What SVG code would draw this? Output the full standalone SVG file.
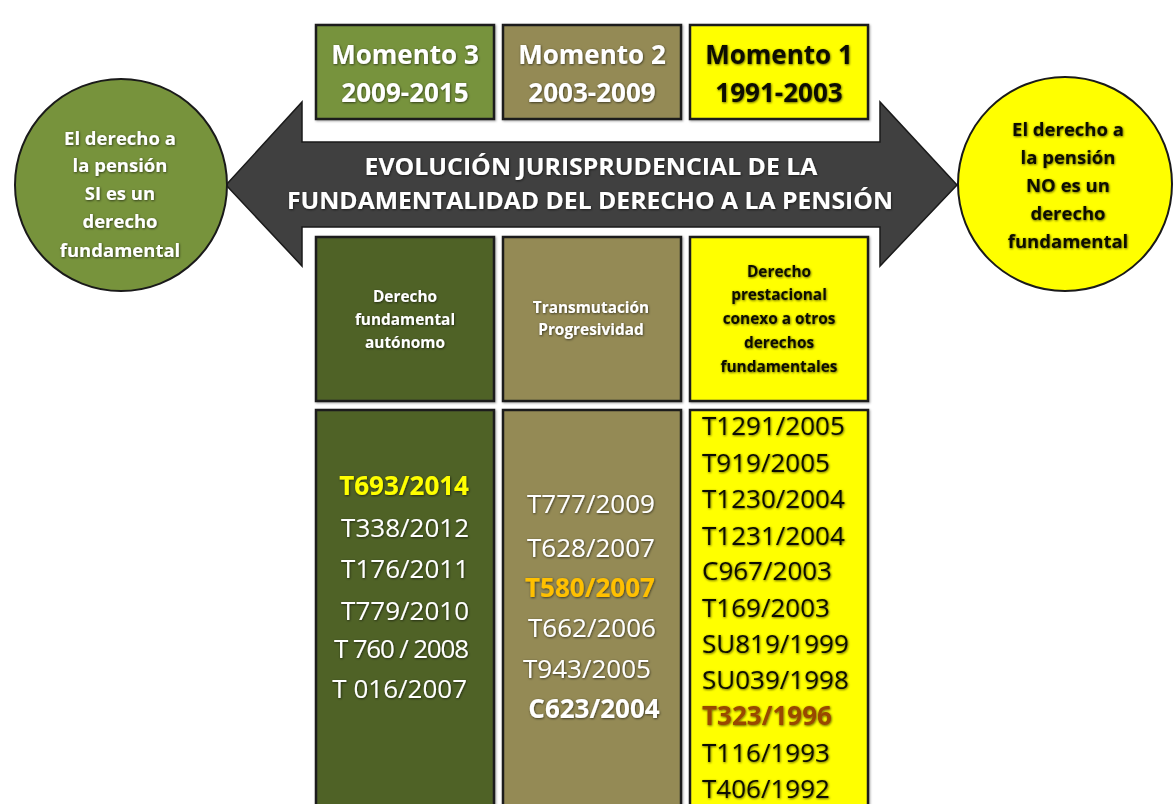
<svg xmlns="http://www.w3.org/2000/svg" width="1174" height="804" viewBox="0 0 1174 804">
<defs>
<filter id="sh" x="-10%" y="-30%" width="120%" height="160%">
<feDropShadow dx="0.6" dy="0.8" stdDeviation="0.9" flood-color="#000" flood-opacity="0.65"/>
</filter>
<filter id="bs" x="-5%" y="-5%" width="110%" height="110%">
<feDropShadow dx="1" dy="1" stdDeviation="1" flood-color="#000" flood-opacity="0.35"/>
</filter>
<style>
.box{stroke:#1c1c1c;stroke-width:2.5;filter:url(#bs)}
.g1{fill:#77933C}.g2{fill:#4F6228}.kh{fill:#948A54}.ye{fill:#FFFF00}
.t{font-family:"Open Sans","Liberation Sans",sans-serif;filter:url(#sh)}
.b{font-weight:700}
.w{fill:#FFFFFF}.k{fill:#111100}
.mo{font-size:26px;font-weight:700;text-anchor:middle}
.hd{font-size:15.4px;font-weight:700;text-anchor:middle}
.ci{font-size:18.5px;font-weight:700;text-anchor:middle}
.li{font-size:26px}
.ti{font-size:24px;font-weight:700;text-anchor:middle;fill:#FFFFFF}
</style>
</defs>
<rect width="1174" height="804" fill="#FFFFFF"/>

<g id="connectors">
<polygon id="arrow" points="226,185 302,102 302,142 880,142 880,102 957,185 880,266 880,227 302,227 302,266" fill="#404040" stroke="#1a1a1a" stroke-width="1.5"/>
</g>

<g id="title">
<text class="t ti" x="591" y="175" textLength="453" lengthAdjust="spacingAndGlyphs">EVOLUCIÓN JURISPRUDENCIAL DE LA</text>
<text class="t ti" x="590" y="209" textLength="606" lengthAdjust="spacingAndGlyphs">FUNDAMENTALIDAD DEL DERECHO A LA PENSIÓN</text>
</g>

<g id="circle-si">
<circle cx="121" cy="185" r="106" class="g1" stroke="#1a1a1a" stroke-width="2"/>
<text class="t ci w" x="120" y="145">El derecho a</text>
<text class="t ci w" x="120" y="172">la pensión</text>
<text class="t ci w" x="120" y="200">SI es un</text>
<text class="t ci w" x="120" y="228">derecho</text>
<text class="t ci w" x="120" y="257">fundamental</text>
</g>

<g id="circle-no">
<circle cx="1065" cy="184" r="107" class="ye" stroke="#1a1a1a" stroke-width="2"/>
<text class="t ci k" x="1068" y="136">El derecho a</text>
<text class="t ci k" x="1068" y="164">la pensión</text>
<text class="t ci k" x="1068" y="192">NO es un</text>
<text class="t ci k" x="1068" y="220">derecho</text>
<text class="t ci k" x="1068" y="248">fundamental</text>
</g>

<g id="momento3">
<rect class="box g1" x="316" y="25" width="178" height="94"/>
<text class="t mo w" x="405" y="64">Momento 3</text>
<text class="t mo w" x="405" y="102">2009-2015</text>
</g>
<g id="momento2">
<rect class="box kh" x="503" y="25" width="178" height="94"/>
<text class="t mo w" x="592" y="64">Momento 2</text>
<text class="t mo w" x="592" y="102">2003-2009</text>
</g>
<g id="momento1">
<rect class="box ye" x="690" y="25" width="178" height="94"/>
<text class="t mo k" x="779" y="64">Momento 1</text>
<text class="t mo k" x="779" y="102">1991-2003</text>
</g>

<g id="header3">
<rect class="box g2" x="316" y="237" width="178" height="164"/>
<text class="t hd w" x="405" y="302">Derecho</text>
<text class="t hd w" x="405" y="325">fundamental</text>
<text class="t hd w" x="405" y="348">autónomo</text>
</g>
<g id="header2">
<rect class="box kh" x="503" y="237" width="178" height="164"/>
<text class="t hd w" x="591" y="313">Transmutación</text>
<text class="t hd w" x="591" y="335">Progresividad</text>
</g>
<g id="header1">
<rect class="box ye" x="690" y="237" width="178" height="164"/>
<text class="t hd k" x="779" y="277">Derecho</text>
<text class="t hd k" x="779" y="300">prestacional</text>
<text class="t hd k" x="779" y="324">conexo a otros</text>
<text class="t hd k" x="779" y="348">derechos</text>
<text class="t hd k" x="779" y="372">fundamentales</text>
</g>

<g id="list3">
<rect class="box g2" x="316" y="410" width="178" height="420"/>
<g class="t li" text-anchor="end">
<text class="b" x="469" y="495" fill="#FFFF00">T693/2014</text>
<text class="w" x="469" y="537">T338/2012</text>
<text class="w" x="469" y="578">T176/2011</text>
<text class="w" x="469" y="620">T779/2010</text>
<text class="w" x="469" y="658" textLength="135" lengthAdjust="spacing">T 760 / 2008</text>
<text class="w" x="467" y="698">T 016/2007</text>
</g>
</g>

<g id="list2">
<rect class="box kh" x="503" y="410" width="178" height="420"/>
<g class="t li" text-anchor="middle">
<text class="w" x="591" y="513">T777/2009</text>
<text class="w" x="591" y="557">T628/2007</text>
<text class="b" x="590" y="597" fill="#FFC000">T580/2007</text>
<text class="w" x="592" y="637">T662/2006</text>
<text class="w" x="587" y="678">T943/2005</text>
<text class="b w" x="594" y="718">C623/2004</text>
</g>
</g>

<g id="list1">
<rect class="box ye" x="690" y="410" width="178" height="420"/>
<g class="t li k">
<text x="702" y="435">T1291/2005</text>
<text x="702" y="472">T919/2005</text>
<text x="702" y="508">T1230/2004</text>
<text x="702" y="545">T1231/2004</text>
<text x="702" y="580">C967/2003</text>
<text x="702" y="617">T169/2003</text>
<text x="702" y="653">SU819/1999</text>
<text x="702" y="689">SU039/1998</text>
<text class="b" x="702" y="725" fill="#984806">T323/1996</text>
<text x="702" y="762">T116/1993</text>
<text x="702" y="798">T406/1992</text>
</g>
</g>
</svg>
